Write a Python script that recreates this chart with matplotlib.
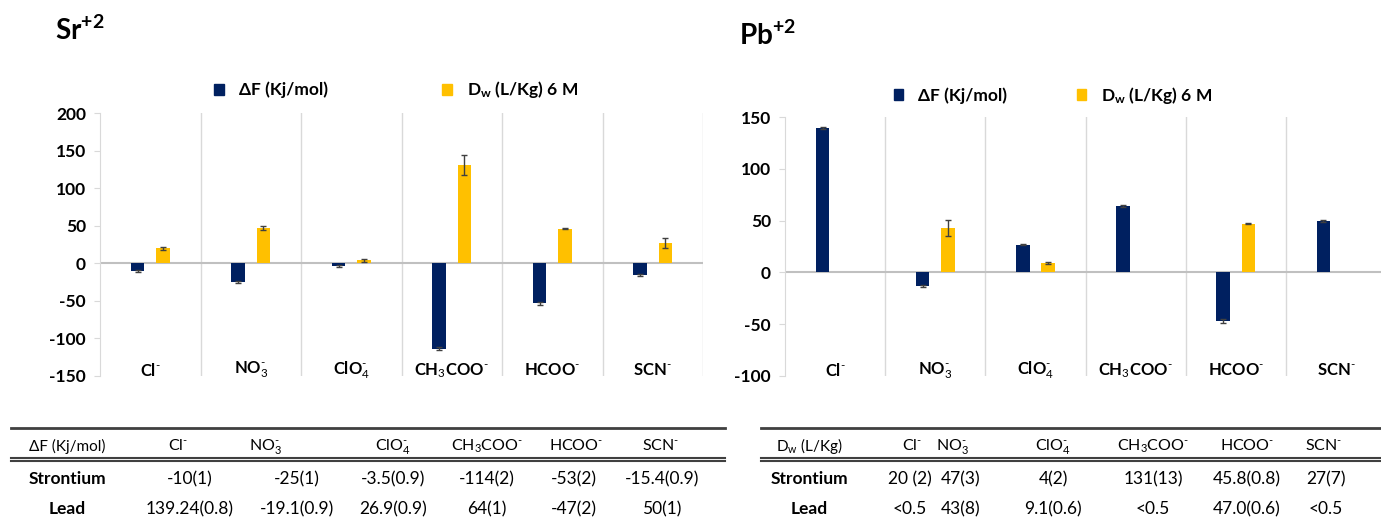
import matplotlib
matplotlib.use("Agg")
from matplotlib import pyplot as plt
from matplotlib.lines import Line2D
from matplotlib.patches import Patch
import numpy as np

plt.rcParams['font.family'] = ['Lato', 'DejaVu Sans']
plt.rcParams['mathtext.fontset'] = 'custom'
plt.rcParams['mathtext.rm'] = 'Lato'
plt.rcParams['mathtext.it'] = 'Lato:italic'
plt.rcParams['mathtext.bf'] = 'Lato:bold'
plt.rcParams['axes.unicode_minus'] = False

# data
anions = ['Cl$^{\\text{-}}$', 'NO$_3^{\\text{-}}$', 'ClO$_4^{\\text{-}}$',
          'CH$_3$COO$^{\\text{-}}$', 'HCOO$^{\\text{-}}$', 'SCN$^{\\text{-}}$']

sr_dF = [-10, -25, -3.5, -114, -53, -15.4]
sr_dF_err = [1, 1, 0.9, 2, 2, 0.9]
sr_dw = [20, 47, 4, 131, 45.8, 27]
sr_dw_err = [2, 3, 2, 13, 0.8, 7]

pb_dF = [139.24, -13, 26.9, 64, -47, 50]
pb_dF_err = [0.8, 0.9, 0.9, 1, 2, 1]
pb_dw = [np.nan, 43, 9.1, np.nan, 47.0, np.nan]   # <0.5 -> not drawn
pb_dw_err = [np.nan, 8, 0.6, np.nan, 0.6, np.nan]

# table texts
sr_dF_txt = ['-10(1)', '-25(1)', '-3.5(0.9)', '-114(2)', '-53(2)', '-15.4(0.9)']
pb_dF_txt = ['139.24(0.8)', '-19.1(0.9)', '26.9(0.9)', '64(1)', '-47(2)', '50(1)']
sr_dw_txt = ['20 (2)', '47(3)', '4(2)', '131(13)', '45.8(0.8)', '27(7)']
pb_dw_txt = ['<0.5', '43(8)', '9.1(0.6)', '<0.5', '47.0(0.6)', '<0.5']

NAVY = '#002060'
GOLD = '#FFC000'
GRID = '#d9d9d9'
W, H = 1381, 517

fig = plt.figure(figsize=(W / 100, H / 100), dpi=100)


def px_axes(x0, x1, ytop, ybot):
    return fig.add_axes([x0 / W, 1 - ybot / H, (x1 - x0) / W, (ybot - ytop) / H])


def bar_panel(ax, dF, dF_err, dw, dw_err, ylim, step):
    x = np.arange(len(anions))
    off, bw = 0.125, 0.135
    ax.bar(x - off, dF, bw, color=NAVY, zorder=3)
    ax.bar(x + off, np.nan_to_num(dw), bw, color=GOLD, zorder=3)
    ax.errorbar(x - off, dF, yerr=dF_err, fmt='none', ecolor='#404040',
                elinewidth=1, capsize=2.5, capthick=1, zorder=4)
    ax.errorbar(x + off, dw, yerr=dw_err, fmt='none', ecolor='#404040',
                elinewidth=1, capsize=2.5, capthick=1, zorder=4)
    ax.set_xlim(-0.5, len(anions) - 0.5)
    ax.set_ylim(*ylim)
    ax.set_yticks(np.arange(ylim[0], ylim[1] + 1, step))
    for xs in np.arange(0.5, len(anions), 1.0):
        ax.axvline(xs, color=GRID, lw=1, zorder=1)
    ax.axhline(0, color='#c0c0c0', lw=1.5, zorder=2)
    for s in ['top', 'right', 'bottom']:
        ax.spines[s].set_visible(False)
    ax.spines['left'].set_color(GRID)
    ax.set_xticks([])
    ax.tick_params(axis='y', length=4, color=GRID, pad=6, labelsize=12.5)
    for lab in ax.get_yticklabels():
        lab.set_fontweight('bold')
    for i, a in enumerate(anions):
        ax.text(i, 0.022, a, transform=ax.get_xaxis_transform(),
                ha='center', va='center', fontsize=12, fontweight='bold')


ax1 = px_axes(100, 703, 113, 376)
bar_panel(ax1, sr_dF, sr_dF_err, sr_dw, sr_dw_err, (-150, 200), 50)
ax2 = px_axes(785, 1386, 117, 376)
bar_panel(ax2, pb_dF, pb_dF_err, pb_dw, pb_dw_err, (-100, 150), 50)

handles = [Patch(color=NAVY, label='ΔF (Kj/mol)'),
           Patch(color=GOLD, label='D$_\\mathregular{w}$ (L/Kg) 6 M')]
fig.legend(handles=handles, loc='center', bbox_to_anchor=(396 / W, 1 - 90 / H),
           ncol=2, frameon=False, handlelength=0.55, handleheight=0.55,
           handletextpad=0.85, columnspacing=6.6, prop={'weight': 'bold', 'size': 12.5})
fig.legend(handles=handles, loc='center', bbox_to_anchor=(1053 / W, 1 - 95 / H),
           ncol=2, frameon=False, handlelength=0.55, handleheight=0.55,
           handletextpad=0.85, columnspacing=4.0, prop={'weight': 'bold', 'size': 12.5})

fig.text(55 / W, 1 - 30 / H, 'Sr$^{\\mathbf{+2}}$', fontsize=20, fontweight='bold',
         va='center', ha='left')
fig.text(739 / W, 1 - 35 / H, 'Pb$^{\\mathbf{+2}}$', fontsize=20, fontweight='bold',
         va='center', ha='left')


# tables
def table(x0, x1, head, head_x, cols_head_x, cols_x, row1, row2):
    for y, lw in [(428, 2), (458, 1.5), (461, 1.5)]:
        fig.add_artist(Line2D([x0 / W, x1 / W], [1 - y / H, 1 - y / H],
                              color='#404040', lw=lw))
    fig.text(head_x / W, 1 - 446 / H, head, ha='center', va='center', fontsize=11)
    for a, xp in zip(anions, cols_head_x):
        fig.text(xp / W, 1 - 446 / H, a, ha='center', va='center', fontsize=11.5)
    for name, vals, y in [('Strontium', row1, 479), ('Lead', row2, 509)]:
        fig.text(head_x / W, 1 - y / H, name, ha='center', va='center',
                 fontsize=12.5, fontweight='bold')
        for v, xp in zip(vals, cols_x):
            fig.text(xp / W, 1 - y / H, v, ha='center', va='center', fontsize=12.5)


table(11, 725, 'ΔF (Kj/mol)', 67, [178, 265, 393, 487, 576, 661],
      [190, 297, 393, 487, 574, 662], sr_dF_txt, pb_dF_txt)
table(761, 1381, 'D$_\\mathregular{w}$ (L/Kg)', 809, [912, 952, 1053, 1153, 1247, 1324],
      [910, 961, 1053, 1153, 1247, 1326], sr_dw_txt, pb_dw_txt)

fig.savefig('out.png', dpi=100)
